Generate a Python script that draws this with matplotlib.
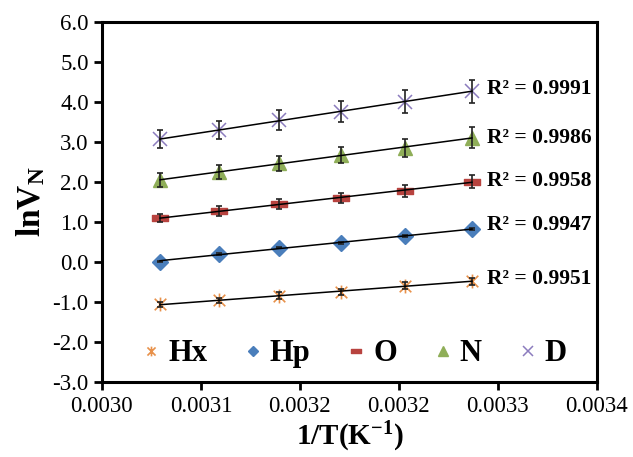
import numpy as np
import matplotlib
matplotlib.use('Agg')
import matplotlib.pyplot as plt
from matplotlib.path import Path

plt.rcParams['font.family'] = ['Liberation Serif', 'DejaVu Serif']
plt.rcParams['mathtext.fontset'] = 'custom'
plt.rcParams['mathtext.rm'] = 'Liberation Serif'
plt.rcParams['mathtext.bf'] = 'Liberation Serif:bold'

# 1/T (K^-1)
inv_T = [0.003047, 0.003095, 0.003143, 0.003193, 0.003245, 0.003299]

# ln VN per probe
hx = [-1.06, -0.96, -0.84, -0.75, -0.59, -0.48]
hp = [0.01, 0.20, 0.36, 0.48, 0.65, 0.82]
o_ = [1.09, 1.28, 1.45, 1.60, 1.78, 2.01]
n_ = [2.05, 2.25, 2.47, 2.67, 2.85, 3.11]
d_ = [3.07, 3.30, 3.54, 3.76, 4.01, 4.27]

# error bars
hx_err = [0.07, 0.07, 0.08, 0.08, 0.09, 0.09]
hp_err = [0.02, 0.02, 0.02, 0.02, 0.03, 0.03]
o_err = [0.10, 0.12, 0.12, 0.13, 0.15, 0.16]
n_err = [0.17, 0.18, 0.19, 0.20, 0.22, 0.26]
d_err = [0.22, 0.23, 0.25, 0.26, 0.28, 0.29]

labels = ['Hx', 'Hp', 'O', 'N', 'D']
r2 = ['0.9951', '0.9947', '0.9958', '0.9986', '0.9991']
r2_y = [-0.43, 0.93, 2.03, 3.10, 4.33]

# markers
star = Path([(-1, -1), (1, 1), (-1, 1), (1, -1), (0, -1.2), (0, 1.2)],
            [Path.MOVETO, Path.LINETO, Path.MOVETO, Path.LINETO, Path.MOVETO, Path.LINETO])
dash = Path([(-1, -0.4), (1, -0.4), (1, 0.4), (-1, 0.4), (-1, -0.4)],
            [Path.MOVETO, Path.LINETO, Path.LINETO, Path.LINETO, Path.CLOSEPOLY])

styles = [
    dict(marker=star, ms=10, mfc='none', mec='#E8914A', mew=1.2),
    dict(marker='D', ms=8, mfc='#4A7EBB', mec='#4A7EBB'),
    dict(marker=dash, ms=11, mfc='#B8433F', mec='#B8433F'),
    dict(marker='^', ms=10, mfc='#8FAE58', mec='#8FAE58'),
    dict(marker='x', ms=10, mfc='none', mec='#8C7CBE', mew=1.1),
]

fig = plt.figure(figsize=(6.33, 4.57), dpi=100)
ax = fig.add_axes([0.161, 0.164, 0.782, 0.788])

series = [hx, hp, o_, n_, d_]
errs = [hx_err, hp_err, o_err, n_err, d_err]
x = np.array(inv_T)
for ys, e, lab, st in zip(series, errs, labels, styles):
    ax.plot(x, ys, ls='none', label=lab, zorder=3, **st)
    ax.errorbar(x, ys, yerr=e, fmt='none', ecolor='#222222', elinewidth=1.2,
                capsize=2.5, capthick=1.2, zorder=4)
    # linear trendline
    k, b = np.polyfit(x, ys, 1)
    ax.plot([x[0], x[-1]], [k * x[0] + b, k * x[-1] + b], color='black', lw=1.1, zorder=5)

for yy, r in zip(r2_y, r2):
    ax.text(0.003311, yy, 'R² = ' + r, fontsize=15.5, fontweight='bold', va='center', ha='left')

ax.set_xlim(0.0030, 0.0034)
ax.set_ylim(-3.0, 6.0)
ax.set_xticks([0.0030, 0.00308, 0.00316, 0.00324, 0.00332, 0.0034])
ax.set_yticks(np.arange(-3, 7, 1.0))
ax.xaxis.set_major_formatter(matplotlib.ticker.FormatStrFormatter('%.4f'))
ax.yaxis.set_major_formatter(matplotlib.ticker.FormatStrFormatter('%.1f'))
ax.tick_params(labelsize=16.5, direction='out', length=6, width=2)
ax.tick_params(axis='x', pad=4)
for sp in ax.spines.values():
    sp.set_linewidth(2.2)

ax.set_xlabel(r'$\mathbf{1/T(K^{-1})}$', fontsize=21, labelpad=2)
ax.set_ylabel(r'$\mathbf{lnV_N}$', fontsize=24, labelpad=4)

ax.legend(loc='center', bbox_to_anchor=(0.51, 0.078), ncol=5, frameon=False,
          prop={'size': 22, 'weight': 'bold'}, markerscale=0.7,
          handlelength=0.6, handletextpad=0.25, columnspacing=1.2)

fig.savefig('out.png', dpi=100)
